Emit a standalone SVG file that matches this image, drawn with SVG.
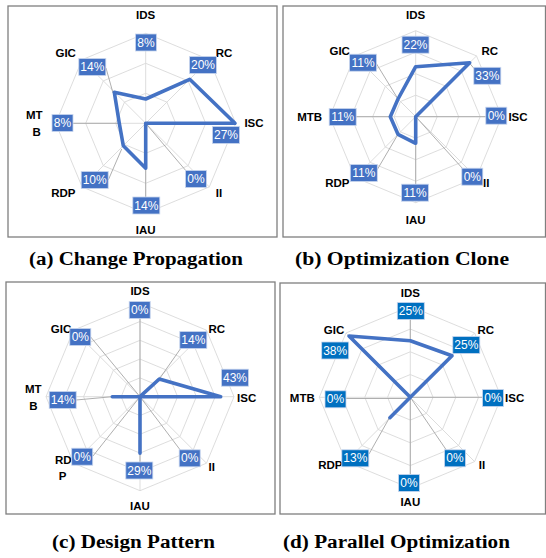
<svg xmlns="http://www.w3.org/2000/svg" width="546" height="558" viewBox="0 0 546 558">
<style>
.frame{fill:none;stroke:#7f7f7f;stroke-width:1.3}
.ring{fill:none;stroke:#d9d9d9;stroke-width:0.9}
.spoke{fill:none;stroke:#d9d9d9;stroke-width:0.9}
.leader{fill:none;stroke:#a6a6a6;stroke-width:0.9}
.data{fill:none;stroke:#4472C4;stroke-width:3.6;stroke-linejoin:round;stroke-linecap:round}
.box{fill:#4472C4;stroke:#c9d6ee;stroke-width:0.8}
.box2{fill:#0070C0;stroke:#c9d6ee;stroke-width:0.8}
.val{font-family:"Liberation Sans",Arial,sans-serif;font-size:12px;fill:#ffffff;text-anchor:middle}
.cat{font-family:"Liberation Sans",Arial,sans-serif;font-size:11.5px;font-weight:bold;fill:#000000;text-anchor:middle}
.cap{font-family:"Liberation Serif","Times New Roman",serif;font-size:18px;font-weight:bold;fill:#000000}
</style>
<rect width="546" height="558" fill="#ffffff"/>

<!-- Panel (a) -->
<g id="panel-a">
  <rect class="frame" x="8" y="6" width="269" height="231"/>
  <g id="grid-a" transform="translate(145.7,123.3)">
    <polygon class="ring" points="0,-30 21.2,-21.2 30,0 21.2,21.2 0,30 -21.2,21.2 -30,0 -21.2,-21.2"/>
    <polygon class="ring" points="0,-60 42.4,-42.4 60,0 42.4,42.4 0,60 -42.4,42.4 -60,0 -42.4,-42.4"/>
    <polygon class="ring" points="0,-90 63.6,-63.6 90,0 63.6,63.6 0,90 -63.6,63.6 -90,0 -63.6,-63.6"/>
    <path class="spoke" d="M0,0V-90M0,0L63.6,-63.6M0,0H90M0,0L63.6,63.6M0,0V90M0,0L-63.6,63.6M0,0H-90M0,0L-63.6,-63.6"/>
  </g>
  <g id="connectors-a">
    <path class="leader" d="M106,68L113,93M72.7,123.3H119.3M108.3,180L121.7,149M187,172L145.7,123.3M145.7,197V168.3"/>
    <polygon class="data" points="145.7,99 189.7,79.3 235,123.3 145.7,123.3 145.7,168.3 123.3,145.7 119.3,123.3 114.3,92.3"/>
  </g>
  <g id="cats-a">
    <text class="cat" x="145.7" y="19">IDS</text>
    <text class="cat" x="224" y="57">RC</text>
    <text class="cat" x="254" y="127">ISC</text>
    <text class="cat" x="219" y="197">II</text>
    <text class="cat" x="145.7" y="234">IAU</text>
    <text class="cat" x="63.3" y="197">RDP</text>
    <text class="cat" x="34.3" y="119">MT</text>
    <text class="cat" x="36.7" y="136">B</text>
    <text class="cat" x="65.7" y="57">GIC</text>
  </g>
  <g id="labels-a">
    <rect class="box" x="135.5" y="34" width="21" height="17"/><text class="val" x="146" y="46.5">8%</text>
    <rect class="box" x="189.5" y="56.5" width="27" height="17"/><text class="val" x="203" y="69">20%</text>
    <rect class="box" x="212.5" y="126.5" width="27" height="17"/><text class="val" x="226" y="139">27%</text>
    <rect class="box" x="185.5" y="170.5" width="21" height="17"/><text class="val" x="196" y="183">0%</text>
    <rect class="box" x="132.8" y="197" width="27" height="17"/><text class="val" x="146.3" y="209.5">14%</text>
    <rect class="box" x="81.2" y="171.5" width="27" height="17"/><text class="val" x="94.7" y="184">10%</text>
    <rect class="box" x="52" y="114.5" width="21" height="17"/><text class="val" x="62.5" y="127">8%</text>
    <rect class="box" x="78.8" y="58.5" width="27" height="17"/><text class="val" x="92.3" y="71">14%</text>
  </g>
</g>

<!-- Panel (b) -->
<g id="panel-b">
  <rect class="frame" x="283" y="6" width="262.5" height="231"/>
  <g id="grid-b" transform="translate(415.7,116.7)">
    <polygon class="ring" points="0,-21.5 15.2,-15.2 21.5,0 15.2,15.2 0,21.5 -15.2,15.2 -21.5,0 -15.2,-15.2"/>
    <polygon class="ring" points="0,-43 30.4,-30.4 43,0 30.4,30.4 0,43 -30.4,30.4 -43,0 -30.4,-30.4"/>
    <polygon class="ring" points="0,-64.5 45.6,-45.6 64.5,0 45.6,45.6 0,64.5 -45.6,45.6 -64.5,0 -45.6,-45.6"/>
    <polygon class="ring" points="0,-86 60.8,-60.8 86,0 60.8,60.8 0,86 -60.8,60.8 -86,0 -60.8,-60.8"/>
    <path class="spoke" d="M0,0V-86M0,0L60.8,-60.8M0,0H86M0,0L60.8,60.8M0,0V86M0,0L-60.8,60.8M0,0H-86M0,0L-60.8,-60.8"/>
  </g>
  <g id="connectors-b">
    <path class="leader" d="M376,63L398,99M469.7,63.3L474.5,69M355.7,116.7H390.3M377,170L398,134.3M463,169L415.7,116.7M415.7,184.3V143.3M486,116.7H415.7"/>
    <polygon class="data" points="415.7,66.7 469.7,62.7 415.7,116.7 415.7,116.7 415.7,143.3 398,134.3 390.3,116.7 398,99"/>
  </g>
  <g id="cats-b">
    <text class="cat" x="415.7" y="19">IDS</text>
    <text class="cat" x="489.7" y="55">RC</text>
    <text class="cat" x="518" y="121">ISC</text>
    <text class="cat" x="486.3" y="187">II</text>
    <text class="cat" x="415.7" y="223.5">IAU</text>
    <text class="cat" x="337.3" y="187">RDP</text>
    <text class="cat" x="309.7" y="121">MTB</text>
    <text class="cat" x="339.7" y="55">GIC</text>
  </g>
  <g id="labels-b">
    <rect class="box" x="402" y="36.2" width="27" height="17"/><text class="val" x="415.5" y="48.7">22%</text>
    <rect class="box" x="473.8" y="67.3" width="27" height="17"/><text class="val" x="487.3" y="79.8">33%</text>
    <rect class="box" x="485.8" y="107.2" width="21" height="17"/><text class="val" x="496.3" y="119.7">0%</text>
    <rect class="box" x="461.8" y="168.2" width="21" height="17"/><text class="val" x="472.3" y="180.7">0%</text>
    <rect class="box" x="401.5" y="184.2" width="27" height="17"/><text class="val" x="415" y="196.7">11%</text>
    <rect class="box" x="350.3" y="164.5" width="27" height="17"/><text class="val" x="363.8" y="177">11%</text>
    <rect class="box" x="329.2" y="108.5" width="27" height="17"/><text class="val" x="342.7" y="121">11%</text>
    <rect class="box" x="349.5" y="54.2" width="27" height="17"/><text class="val" x="363" y="66.7">11%</text>
  </g>
</g>

<!-- Panel (c) -->
<g id="panel-c">
  <rect class="frame" x="6" y="282" width="269" height="232"/>
  <g id="grid-c" transform="translate(140,396.7)">
    <polygon class="ring" points="0,-18.8 13.3,-13.3 18.8,0 13.3,13.3 0,18.8 -13.3,13.3 -18.8,0 -13.3,-13.3"/>
    <polygon class="ring" points="0,-37.6 26.6,-26.6 37.6,0 26.6,26.6 0,37.6 -26.6,26.6 -37.6,0 -26.6,-26.6"/>
    <polygon class="ring" points="0,-56.4 39.9,-39.9 56.4,0 39.9,39.9 0,56.4 -39.9,39.9 -56.4,0 -39.9,-39.9"/>
    <polygon class="ring" points="0,-75.2 53.2,-53.2 75.2,0 53.2,53.2 0,75.2 -53.2,53.2 -75.2,0 -53.2,-53.2"/>
    <polygon class="ring" points="0,-94 66.5,-66.5 94,0 66.5,66.5 0,94 -66.5,66.5 -94,0 -66.5,-66.5"/>
    <path class="spoke" d="M0,0V-94M0,0L66.5,-66.5M0,0H94M0,0L66.5,66.5M0,0V94M0,0L-66.5,66.5M0,0H-94M0,0L-66.5,-66.5"/>
  </g>
  <g id="connectors-c">
    <path class="leader" d="M90.7,337L140,396.7M181,348L159.3,379M76,400L112.3,396.7M93,456L140,396.7M181,451L140,396.7M140,462V453.3M140,318V396.7"/>
    <polygon class="data" points="140,396.7 159.3,379 220.7,396.7 140,396.7 140,453.3 140,396.7 112.3,396.7 140,396.7"/>
  </g>
  <g id="cats-c">
    <text class="cat" x="140" y="295">IDS</text>
    <text class="cat" x="216.7" y="332.5">RC</text>
    <text class="cat" x="246.7" y="401.5">ISC</text>
    <text class="cat" x="211.7" y="471">II</text>
    <text class="cat" x="140" y="510">IAU</text>
    <text class="cat" x="63.3" y="464">RD</text>
    <text class="cat" x="62.7" y="480">P</text>
    <text class="cat" x="33.3" y="392.5">MT</text>
    <text class="cat" x="33.3" y="410">B</text>
    <text class="cat" x="61" y="332.5">GIC</text>
  </g>
  <g id="labels-c">
    <rect class="box" x="129.2" y="301.5" width="21" height="17"/><text class="val" x="139.7" y="314">0%</text>
    <rect class="box" x="179.8" y="331.5" width="27" height="17"/><text class="val" x="193.3" y="344">14%</text>
    <rect class="box" x="221.5" y="369.2" width="27" height="17"/><text class="val" x="235" y="381.7">43%</text>
    <rect class="box" x="179.2" y="449.8" width="21" height="17"/><text class="val" x="189.7" y="462.3">0%</text>
    <rect class="box" x="125.8" y="462" width="27" height="17"/><text class="val" x="139.3" y="474.5">29%</text>
    <rect class="box" x="71.7" y="448.2" width="21" height="17"/><text class="val" x="82.2" y="460.7">0%</text>
    <rect class="box" x="49.2" y="391.5" width="27" height="17"/><text class="val" x="62.7" y="404">14%</text>
    <rect class="box" x="69.8" y="328.5" width="21" height="17"/><text class="val" x="80.3" y="341">0%</text>
  </g>
</g>

<!-- Panel (d) -->
<g id="panel-d">
  <rect class="frame" x="280" y="283" width="265.5" height="231"/>
  <g id="grid-d" transform="translate(410.3,397.3)">
    <polygon class="ring" points="0,-22.75 16.1,-16.1 22.75,0 16.1,16.1 0,22.75 -16.1,16.1 -22.75,0 -16.1,-16.1"/>
    <polygon class="ring" points="0,-45.5 32.2,-32.2 45.5,0 32.2,32.2 0,45.5 -32.2,32.2 -45.5,0 -32.2,-32.2"/>
    <polygon class="ring" points="0,-68.25 48.3,-48.3 68.25,0 48.3,48.3 0,68.25 -48.3,48.3 -68.25,0 -48.3,-48.3"/>
    <polygon class="ring" points="0,-91 64.3,-64.3 91,0 64.3,64.3 0,91 -64.3,64.3 -91,0 -64.3,-64.3"/>
    <path class="spoke" d="M0,0V-91M0,0L64.3,-64.3M0,0H91M0,0L64.3,64.3M0,0V91M0,0L-64.3,64.3M0,0H-91M0,0L-64.3,-64.3"/>
  </g>
  <g id="connectors-d">
    <path class="leader" d="M369,454L389.7,417.3M447,451L410.3,397.3M410.3,474V397.3M345.7,398.5H410.3M483,397.3H410.3M410.3,319V340.7"/>
    <polygon class="data" points="410.3,340.7 452,355.8 410.3,397.3 410.3,397.3 410.3,397.3 389.9,417.7 410.3,397.3 349,336"/>
  </g>
  <g id="cats-d">
    <text class="cat" x="410.3" y="297">IDS</text>
    <text class="cat" x="485.7" y="334">RC</text>
    <text class="cat" x="514.7" y="401.5">ISC</text>
    <text class="cat" x="482" y="469">II</text>
    <text class="cat" x="410.3" y="506">IAU</text>
    <text class="cat" x="330.3" y="469">RDP</text>
    <text class="cat" x="302.3" y="401.5">MTB</text>
    <text class="cat" x="334" y="334">GIC</text>
  </g>
  <g id="labels-d">
    <rect class="box2" x="397.3" y="302.5" width="27" height="17"/><text class="val" x="410.8" y="315">25%</text>
    <rect class="box2" x="452.8" y="336.5" width="27" height="17"/><text class="val" x="466.3" y="349">25%</text>
    <rect class="box2" x="482.5" y="389.5" width="21" height="17"/><text class="val" x="493" y="402">0%</text>
    <rect class="box2" x="444.5" y="449.8" width="21" height="17"/><text class="val" x="455" y="462.3">0%</text>
    <rect class="box2" x="398.5" y="474.5" width="21" height="17"/><text class="val" x="409" y="487">0%</text>
    <rect class="box2" x="341.8" y="449.8" width="27" height="17"/><text class="val" x="355.3" y="462.3">13%</text>
    <rect class="box2" x="325" y="390.8" width="21" height="17"/><text class="val" x="335.5" y="403.3">0%</text>
    <rect class="box2" x="321.7" y="342" width="27" height="17"/><text class="val" x="335.2" y="354.5">38%</text>
  </g>
</g>

<!-- Captions -->
<g id="captions">
  <text class="cap" x="29" y="265" textLength="214" lengthAdjust="spacingAndGlyphs">(a) Change Propagation</text>
  <text class="cap" x="295" y="265" textLength="214" lengthAdjust="spacingAndGlyphs">(b) Optimization Clone</text>
  <text class="cap" x="52" y="548" textLength="163" lengthAdjust="spacingAndGlyphs">(c) Design Pattern</text>
  <text class="cap" x="283" y="548" textLength="227" lengthAdjust="spacingAndGlyphs">(d) Parallel Optimization</text>
</g>
</svg>
